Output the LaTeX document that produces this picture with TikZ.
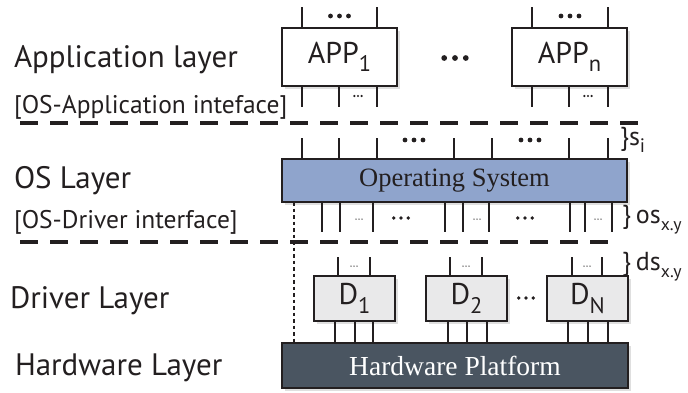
\documentclass[tikz,border=0pt]{standalone}
\usepackage{fontspec}
\usepackage{graphicx}
\newfontfamily\labfont{PT Sans}
\newfontfamily\boxfont{Liberation Serif}
\usetikzlibrary{shadows}
\definecolor{ink}{HTML}{231F20}
\definecolor{osblue}{HTML}{8FA4CC}
\definecolor{drvgray}{HTML}{E9E9EA}
\definecolor{hwslate}{HTML}{4A5561}
% lowered, smaller index text
\newcommand\idx[1]{\raisebox{-0.28em}{\scalebox{0.75}{#1}}}
\newcommand\sidx[1]{\raisebox{-0.28em}{\scalebox{0.68}{#1}}}

\begin{document}
\begin{tikzpicture}[x=1pt,y=-1pt,
  every node/.style={inner sep=0pt, outer sep=0pt, text=ink},
  pinline/.style={draw=ink, line width=2.7pt},
  unit/.style={draw=ink, line width=2.6pt, fill=white,
    drop shadow={shadow xshift=3pt, shadow yshift=-3pt, opacity=0.25}},
  unittext/.style={font=\labfont\fontsize{30}{32}\selectfont},
  layerlabel/.style={anchor=base west, font=\labfont\fontsize{31}{36}\selectfont},
  ifacelabel/.style={anchor=base west, font=\labfont\fontsize{25.5}{30}\selectfont},
  bracelabel/.style={anchor=west, font=\labfont\fontsize{26}{30}\selectfont},
  boundary/.style={draw=ink, line width=3.2pt, dash pattern=on 18pt off 12pt},
  bigdots/.pic={\foreach \i in {-1,0,1} \fill[ink] (\i*9,0) circle (2.4);},
  smalldots/.pic={\foreach \i in {-1,0,1} \fill[ink] (\i*3.6,0) circle (1.2);},
  tinydots/.pic={\foreach \i in {-1,0,1} \fill[ink!80] (\i*3,0) circle (0.75);},
]
\useasboundingbox (0,0) rectangle (688,392);

% layer names
\node[layerlabel] (lapp) at (14,67) {Application layer};
\node[ifacelabel] (lappif) at (14,113) {[OS-Application inteface]};
\node[layerlabel] (los) at (14,188) {OS Layer};
\node[ifacelabel] (losif) at (14,228) {[OS-Driver interface]};
\node[layerlabel] (ldrv) at (10,308) {Driver Layer};
\node[layerlabel] (lhw) at (15,375) {Hardware Layer};

% interface boundaries
\coordinate (b1w) at (20,123);
\coordinate (b1e) at (647,123);
\coordinate (b2w) at (20,242);
\coordinate (b2e) at (613,242);
\draw[boundary] (b1w) -- (b1e);
\draw[boundary] (b2w) -- (b2e);

% application units
\node[unit, unittext, minimum width=115pt, minimum height=58pt] (app1) at (339.5,57) {APP\idx{1}};
\node[unit, unittext, minimum width=115pt, minimum height=58pt] (appn) at (569.5,57) {APP\idx{n}};
\pic[scale=1.2] at (455,58) {bigdots};

\foreach \x in {302,377} \draw[pinline] (app1.north -| \x,0) -- ++(0,-21);
\foreach \x in {532,608} \draw[pinline] (appn.north -| \x,0) -- ++(0,-21);
\pic at (339.5,16) {bigdots};
\pic at (570,16) {bigdots};
\foreach \x in {302,339,377} \draw[pinline] (app1.south -| \x,0) -- ++(0,21);
\foreach \x in {532,569,608} \draw[pinline] (appn.south -| \x,0) -- ++(0,21);
\pic at (358,96) {smalldots};
\pic at (588,96) {smalldots};

% operating system
\node[unit, fill=osblue, minimum width=345pt, minimum height=43pt,
      font=\boxfont\fontsize{26.5}{30}\selectfont] (os) at (454.5,180.5) {Operating System};
\foreach \x in {302,339,377,454,492,569,608} \draw[pinline] (os.north -| \x,0) -- ++(0,-21);
\pic at (414,140) {bigdots};
\pic at (530,140) {bigdots};
\node[bracelabel] (si) at (620,140) {\}s\idx{i}};

\foreach \x in {322,340,373,445,463,489,570,585,612} \draw[pinline] (os.south -| \x,0) -- ++(0,30);
\pic at (359,219) {tinydots};
\pic at (477,219) {tinydots};
\pic at (598,219) {tinydots};
\pic[scale=0.8] at (401,218) {bigdots};
\pic[scale=0.8] at (525,218) {bigdots};
\node[bracelabel] (osxy) at (622,220) {\}\kern5pt os\sidx{x.y}};

% hardware platform
\node[unit, fill=hwslate, minimum width=346pt, minimum height=45pt,
      font=\boxfont\fontsize{27.5}{30}\selectfont, text=white] (hw) at (455,365.5) {Hardware Platform};

% drivers
\node[unit, unittext, fill=drvgray, minimum width=81pt, minimum height=45pt] (d1) at (354.5,298.5) {D\idx{1}};
\node[unit, unittext, fill=drvgray, minimum width=81pt, minimum height=45pt] (d2) at (466.5,298.5) {D\idx{2}};
\node[unit, unittext, fill=drvgray, minimum width=81pt, minimum height=45pt] (dn) at (587.5,298.5) {D\idx{N}};
\pic[scale=0.8] at (526,298) {bigdots};

\foreach \x in {338,370} \draw[pinline] (d1.north -| \x,0) -- ++(0,-19);
\foreach \x in {450,482} \draw[pinline] (d2.north -| \x,0) -- ++(0,-19);
\foreach \x in {572,602} \draw[pinline] (dn.north -| \x,0) -- ++(0,-19);
\pic at (354,266) {tinydots};
\pic at (466,266) {tinydots};
\pic at (587,266) {tinydots};
\node[bracelabel] (dsxy) at (622,267) {\}\kern5pt ds\sidx{x.y}};

\foreach \x in {335,355,373} \draw[pinline] (d1.south -| \x,0) -- (hw.north -| \x,0);
\foreach \x in {448,467,487} \draw[pinline] (d2.south -| \x,0) -- (hw.north -| \x,0);
\foreach \x in {568,588,608} \draw[pinline] (dn.south -| \x,0) -- (hw.north -| \x,0);

% OS-to-hardware dotted link
\draw[ink, line width=2.6pt, dash pattern=on 3.5pt off 3pt] (os.south -| 294,0) -- (hw.north -| 294,0);
\end{tikzpicture}
\end{document}
